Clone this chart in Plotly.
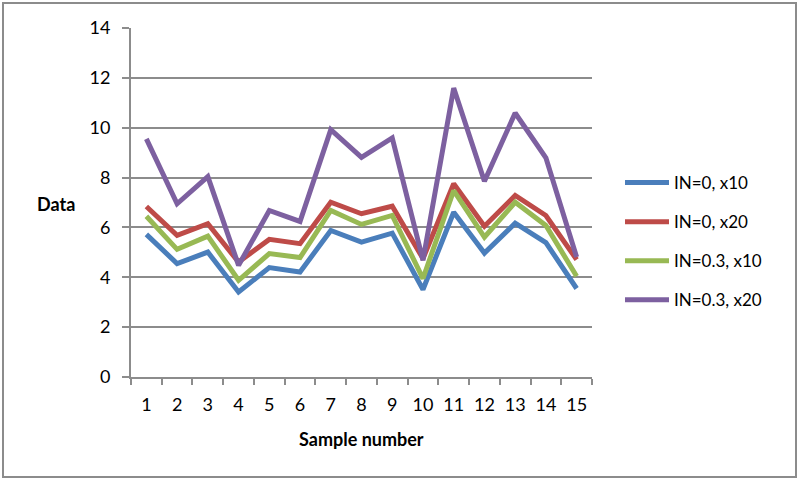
import plotly.graph_objects as go

samples = [str(i) for i in range(1, 16)]
in0_x10 = [5.72, 4.55, 5.01, 3.41, 4.39, 4.21, 5.88, 5.41, 5.77, 3.51, 6.61, 4.97, 6.17, 5.39, 3.55]
in0_x20 = [6.84, 5.68, 6.15, 4.61, 5.52, 5.35, 7.01, 6.55, 6.85, 4.75, 7.75, 6.05, 7.28, 6.48, 4.71]
in03_x10 = [6.45, 5.12, 5.65, 3.88, 4.95, 4.79, 6.68, 6.12, 6.48, 3.95, 7.48, 5.61, 7.01, 6.08, 4.04]
in03_x20 = [9.55, 6.95, 8.04, 4.48, 6.68, 6.24, 9.92, 8.81, 9.59, 4.68, 11.59, 7.85, 10.59, 8.79, 4.81]
series_names = ["IN=0, x10", "IN=0, x20", "IN=0.3, x10", "IN=0.3, x20"]
colors = ["#4A7EBB", "#BE4B48", "#98B954", "#7D60A0"]

fig = go.Figure()
for i, (name, vals, c) in enumerate(zip(series_names, [in0_x10, in0_x20, in03_x10, in03_x20], colors)):
    fig.add_trace(go.Scatter(x=samples, y=vals, mode="lines", name=name, legendgroup=f"g{i}",
                             line=dict(color=c, width=5)))

FONT = "Lato, 'Open Sans', sans-serif"
L, R, T, B = 131, 208, 28, 106
W, H = 800, 483
pw, ph = W - L - R, H - T - B

def px(x):
    return (x - L) / pw

def py(y):
    return (ph - (y - T)) / ph

fig.update_layout(
    width=W, height=H,
    margin=dict(l=L, r=R, t=T, b=B, autoexpand=False),
    paper_bgcolor="white", plot_bgcolor="white",
    font=dict(family=FONT, size=18, color="#000000"),
    showlegend=True,
    legend=dict(x=px(620), y=py(165), xanchor="left", yanchor="top",
                font=dict(family=FONT, size=17, color="#000"),
                itemwidth=44, tracegroupgap=14, bgcolor="rgba(0,0,0,0)"),
    xaxis=dict(type="category", range=[-0.5, 14.5], showgrid=False, showline=True,
               linecolor="#8C8C8C", linewidth=2, tickangle=0,
               ticks="outside", ticklen=6, tickcolor="#8C8C8C", tickwidth=2,
               tickson="boundaries", tickfont=dict(size=18), zeroline=False,
               ticklabelstandoff=10),
    yaxis=dict(range=[0, 14], dtick=2, showgrid=True, gridcolor="#8C8C8C", gridwidth=2,
               showline=True, linecolor="#8C8C8C", linewidth=2,
               ticks="outside", ticklen=7, tickcolor="#8C8C8C", tickwidth=2,
               tickfont=dict(size=18), zeroline=False, ticklabelstandoff=8),
    annotations=[
        dict(text="<b>Data</b>", xref="paper", yref="paper", x=px(56), y=py(204),
             xanchor="center", yanchor="middle", showarrow=False, font=dict(size=18)),
        dict(text="<b>Sample number</b>", xref="paper", yref="paper", x=px(361), y=py(439),
             xanchor="center", yanchor="middle", showarrow=False, font=dict(size=18)),
    ],
    shapes=[dict(type="rect", xref="paper", yref="paper",
                 x0=px(3), x1=px(796), y0=py(477), y1=py(3),
                 line=dict(color="#8C8C8C", width=2), layer="below")],
)
fig.write_html("out.html", config={"displayModeBar": False},
               post_script="document.body.style.margin='0';document.body.style.padding='0';")
